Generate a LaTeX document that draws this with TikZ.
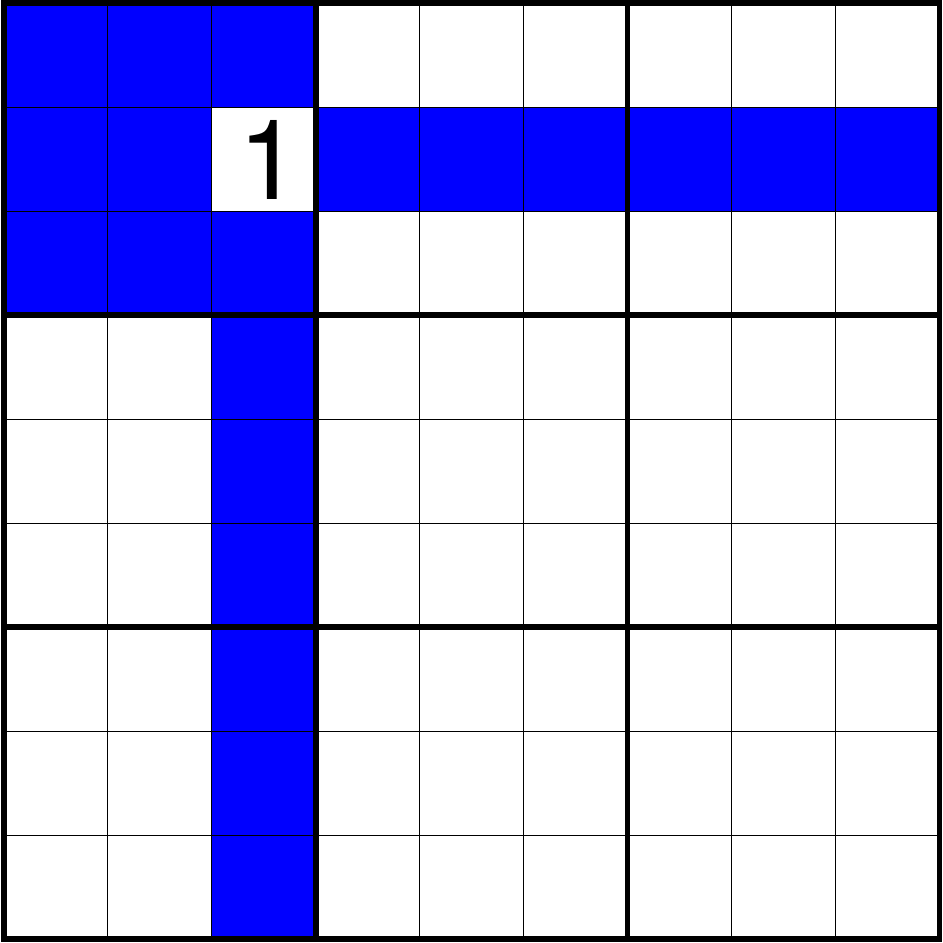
\documentclass[tikz,border=0pt]{standalone}
\usepackage{fontspec}
\setmainfont{TeX Gyre Heros}
\definecolor{cellblue}{RGB}{0,0,255}
\tikzset{
  thinline/.style={line width=0.27pt, black},
  thickline/.style={line width=1.64pt, black},
  bluecell/.style={fill=cellblue},
  digit/.style={inner sep=0pt, font=\fontsize{30.5pt}{31pt}\selectfont}
}
\begin{document}
\begin{tikzpicture}
\useasboundingbox (-0.0337,-0.0337) rectangle (9.0337,9.0337);
% blue cells (row r from top, col c from left)
\foreach \r/\c in {0/0,0/1,0/2,1/0,1/1,2/0,2/1,2/2,
                   1/3,1/4,1/5,1/6,1/7,1/8,
                   3/2,4/2,5/2,6/2,7/2,8/2}{
  \fill[bluecell] (\c,8-\r) rectangle ++(1,1);
}
% thin grid lines
\foreach \i in {1,2,4,5,7,8}{
  \draw[thinline] (\i,0) -- (\i,9);
  \draw[thinline] (0,\i) -- (9,\i);
}
% thick lines
\foreach \i in {3,6}{
  \draw[thickline] (\i,0) -- (\i,9);
  \draw[thickline] (0,\i) -- (9,\i);
}
\draw[thickline] (0,0) rectangle (9,9);
\node[digit] (given) at (2.56,7.5) {1};
\end{tikzpicture}
\end{document}
